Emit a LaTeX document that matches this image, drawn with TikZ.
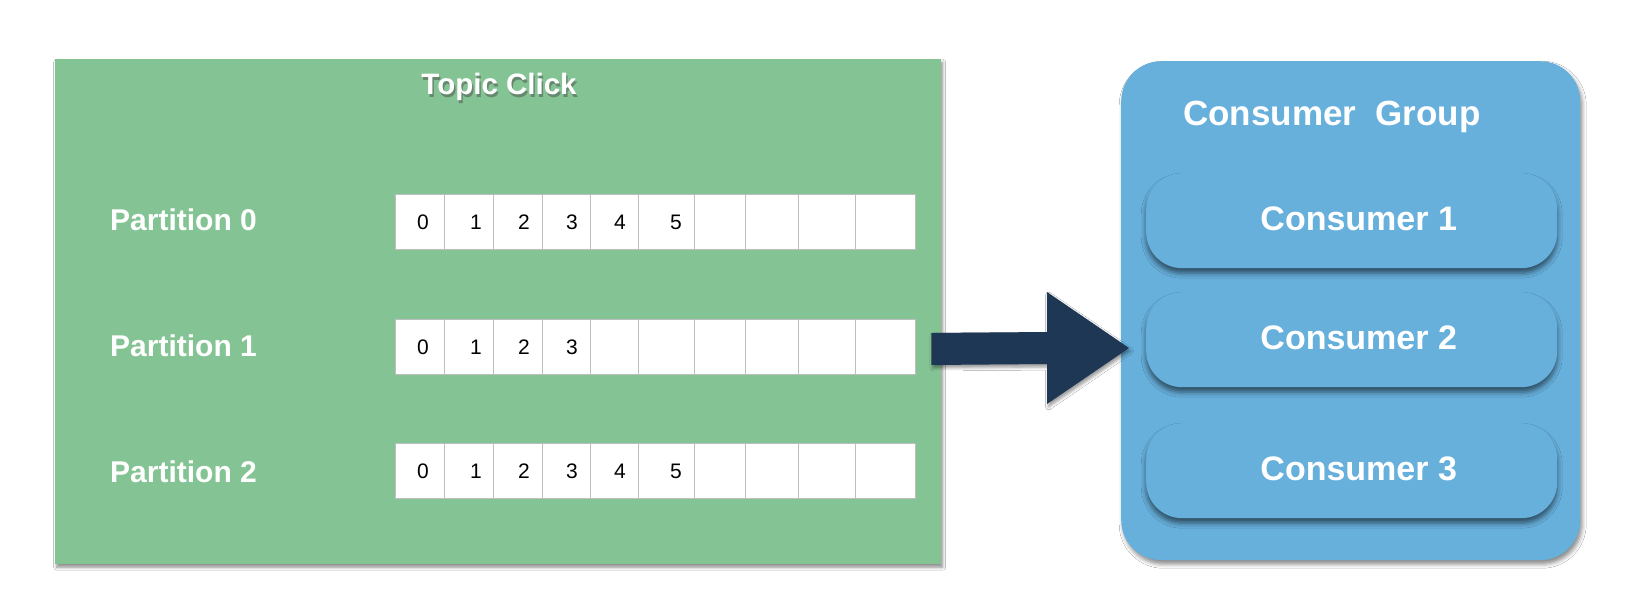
\documentclass[tikz,border=0pt]{standalone}
\usepackage{fontspec}
\setmainfont{Liberation Sans}
\usetikzlibrary{shadows.blur,calc}
\definecolor{topicgreen}{RGB}{132,196,148}
\definecolor{groupblue}{RGB}{103,176,220}
\definecolor{arrownavy}{RGB}{30,55,85}
\definecolor{cellgray}{RGB}{190,190,190}
\begin{document}
\begin{tikzpicture}[x=1pt,y=-1pt,
  topicbox/.style={fill=topicgreen, draw=none, inner sep=0pt, anchor=north west,
    blur shadow={shadow xshift=1.5pt, shadow yshift=-3pt, shadow blur radius=3pt, shadow opacity=45}},
  groupbox/.style={fill=groupblue, draw=none, inner sep=0pt, anchor=north west, rounded corners=40pt,
    blur shadow={shadow xshift=2pt, shadow yshift=-4pt, shadow blur radius=4pt, shadow opacity=45}},
  consbox/.style={fill=groupblue, draw=none, inner sep=0pt, anchor=north west, rounded corners=36pt,
    minimum width=411pt, minimum height=95pt,
    blur shadow={shadow xshift=0pt, shadow yshift=-5pt, shadow blur radius=5pt, shadow opacity=55}},
  cell/.style={fill=white, draw=cellgray, line width=1pt, inner sep=0pt, minimum height=55pt},
  digit/.style={font=\fontsize{21}{24}\selectfont, text=black, inner sep=0pt},
  partlabel/.style={font=\fontsize{30}{34}\selectfont\bfseries, text=white, anchor=west, inner sep=0pt},
  titletext/.style={font=\fontsize{29.5}{34}\selectfont\bfseries, inner sep=0pt},
  grouptext/.style={font=\fontsize{35}{40}\selectfont\bfseries, text=white, anchor=west, inner sep=0pt},
  constext/.style={font=\fontsize{34}{40}\selectfont\bfseries, text=white, inner sep=0pt},
  bigarrow/.style={fill=arrownavy, draw=none,
    blur shadow={shadow xshift=1.5pt, shadow yshift=-3pt, shadow blur radius=3pt, shadow opacity=40}}
]
\useasboundingbox (0,0) rectangle (1628,608);
\fill[white] (0,0) rectangle (1628,608);

% Topic box
\node[topicbox, minimum width=886pt, minimum height=505pt] (topic) at (55,59) {};
\node[titletext, text=black!70, opacity=0.5] (titleshadow) at (500.5,89.5) {Topic Click};
\node[titletext, text=white] (title) at (499,87) {Topic Click};

% Partition labels
\node[partlabel] (lab0) at (110,220) {Partition 0};
\node[partlabel] (lab1) at (110,346) {Partition 1};
\node[partlabel] (lab2) at (110,472) {Partition 2};

% Cells
\foreach \row/\yc in {0/221.5, 1/346.5, 2/471} {
  \foreach \l/\r [count=\i from 0] in {395/444, 444/493, 493/542, 542/590, 590/638, 638/694, 694/745, 745/798, 798/855, 855/915} {
    \node[cell, minimum width={(\r-\l)*1pt}] (p\row c\i) at ({(\l+\r)/2}, \yc) {};
  }
}
% Digits
\foreach \row/\yc/\n in {0/222/5, 1/347/3, 2/471.5/5} {
  \foreach \xd [count=\i from 0] in {423, 476, 524, 572, 620, 676} {
    \ifnum\i>\n\else
      \node[digit] (d\row-\i) at (\xd, \yc) {\i};
    \fi
  }
}

% Consumer group
\node[groupbox, minimum width=459pt, minimum height=499pt] (group) at (1121,61) {};
\node[grouptext] (grouptitle) at (1183,117) {Consumer\ \ Group};
\node[consbox] (c1) at (1146,173) {};
\node[consbox] (c2) at (1146,292) {};
\node[consbox] (c3) at (1146,423) {};
\node[constext] (t1) at ($(c1.center)+(7,-2)$) {Consumer 1};
\node[constext] (t2) at ($(c2.center)+(7,-2)$) {Consumer 2};
\node[constext] (t3) at ($(c3.center)+(7,-2)$) {Consumer 3};

% Big arrow from topic to group
\coordinate (atail) at ($(topic.north east)+(-10,290)$);
\coordinate (atip) at ($(group.north west)+(8,287)$);
\fill[bigarrow] ($(atail)+(0,-16)$) -- ($(atip)+(-82,-16)$) -- ($(atip)+(-82,-56)$) -- (atip)
  -- ($(atip)+(-82,56)$) -- ($(atip)+(-82,16)$) -- ($(atail)+(0,16)$) -- cycle;
\end{tikzpicture}
\end{document}
